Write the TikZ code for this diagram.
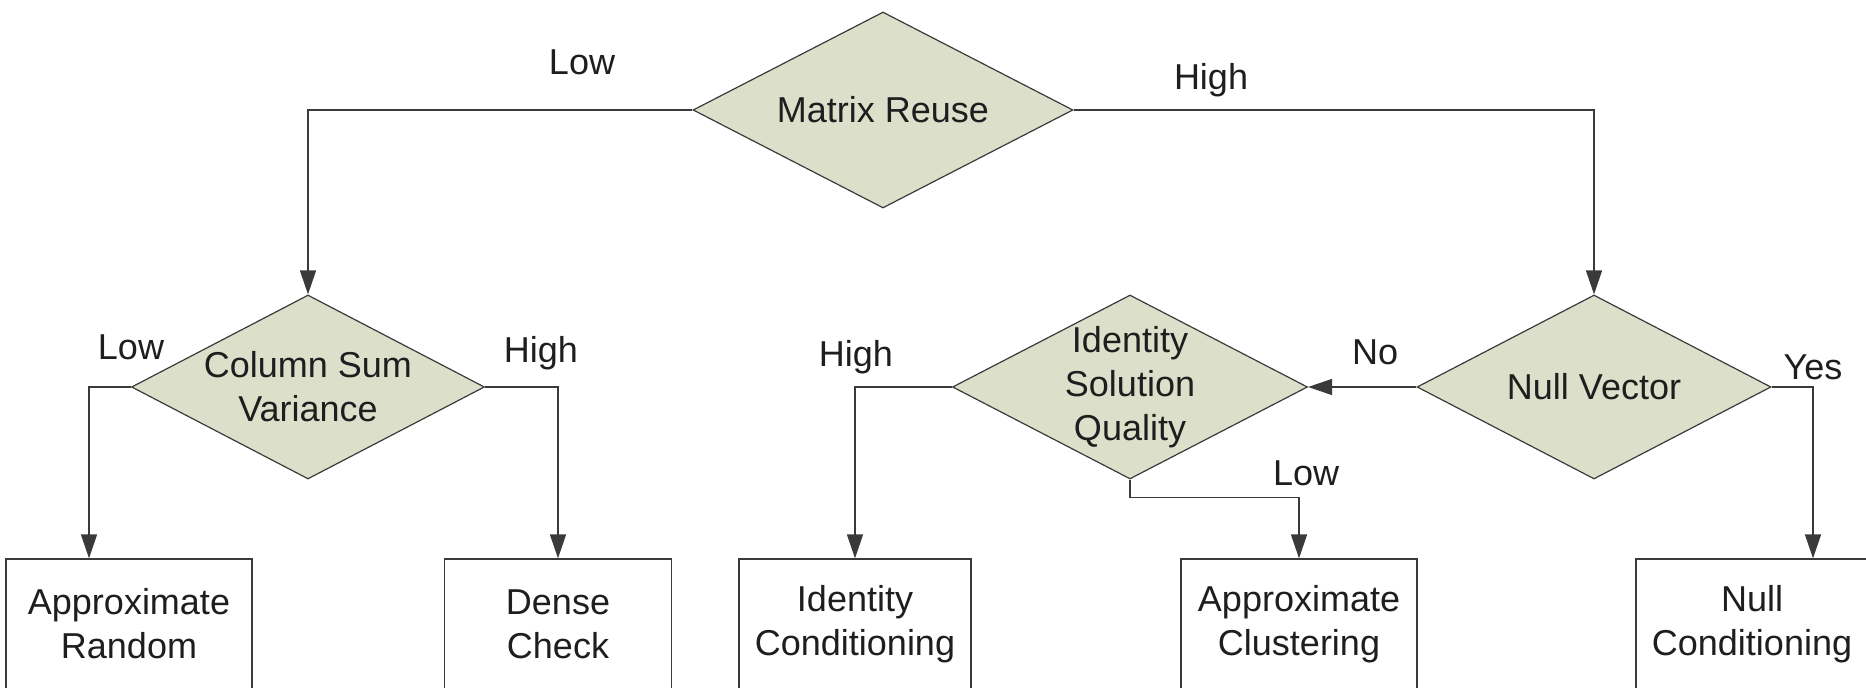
\documentclass[tikz,border=0pt]{standalone}
\usepackage{fontspec}
\setmainfont{Liberation Sans}
\usepackage{xcolor}
\usepackage{tikz}
\usetikzlibrary{shapes.geometric,arrows.meta}
\definecolor{decfill}{HTML}{DCE0CB}
\definecolor{edgegray}{HTML}{3A3A3A}
\definecolor{inkgray}{HTML}{1E1E1E}

\begin{document}
\begin{tikzpicture}[x=0.5pt,y=-0.5pt,
	decision/.style={
		diamond, aspect=1.9, draw=edgegray, fill=decfill, line width=0.6pt, inner sep=-5pt,
		align=center, text=inkgray, font=\fontsize{18}{22}\selectfont
	},
	outcome/.style={
		draw=edgegray, line width=0.6pt, inner sep=0pt, minimum height=65pt,
		align=center, text=inkgray, font=\fontsize{18}{22}\selectfont
	},
	branch/.style={
		text=inkgray, font=\fontsize{18}{22}\selectfont, inner sep=0pt
	},
	flow/.style={
		draw=edgegray, line width=0.7pt, -{Triangle[length=12pt,width=8pt]}
	}
	]
	\useasboundingbox (0,0) rectangle (1866,688);
	
	% decisions
	\node[decision, minimum width=190pt, minimum height=98pt] (reuse) at (883,110) {Matrix Reuse};
	\node[decision, minimum width=176.5pt, minimum height=92pt] (colsum) at (308,387) {Column Sum\\Variance};
	\node[decision, minimum width=177.5pt, minimum height=92pt] (idsol) at (1130,387) {Identity\\Solution\\Quality};
	\node[decision, minimum width=177pt, minimum height=92pt] (nullvec) at (1594,387) {Null Vector};
	
	% outcomes
	\node[outcome, minimum width=123pt] (aprand) at (129,624) {Approximate\\Random};
	\node[outcome, minimum width=113.5pt] (dense) at (558,624) {Dense\\Check};
	\node[outcome, minimum width=116pt] (idcond) at (855,624) {Identity\\Conditioning};
	\node[outcome, minimum width=118pt] (apclust) at (1299,624) {Approximate\\Clustering};
	\node[outcome, minimum width=116pt] (nullcond) at (1752,624) {Null\\Conditioning};
	
	% connectors
	\draw[flow] (reuse.west) -| (colsum.north);
	\draw[flow] (reuse.east) -| (nullvec.north);
	\draw[flow] (colsum.west) -| ([xshift=-20pt]aprand.north);
	\draw[flow] (colsum.east) -| (dense.north);
	\draw[flow] (nullvec.west) -- (idsol.east);
	\draw[flow] (idsol.west) -| (idcond.north);
	\draw[flow] (idsol.south) -- ++(0,18) -| (apclust.north);
	\draw[flow] (nullvec.east) -| ([xshift=30.5pt]nullcond.north);
	
	% branch labels
	\node[branch] (reuselow) at (582,62) {Low};
	\node[branch] (reusehigh) at (1211,80) {High};
	\node[branch] (colsumlow) at (131,347) {Low};
	\node[branch] (colsumhigh) at (541,353) {High};
	\node[branch] (idsolhigh) at (856,357) {High};
	\node[branch] (nullvecno) at (1375,352) {No};
	\node[branch] (idsollow) at (1306,473) {Low};
	\node[branch] (nullvecyes) at (1813,367) {Yes};
\end{tikzpicture}
\end{document}
